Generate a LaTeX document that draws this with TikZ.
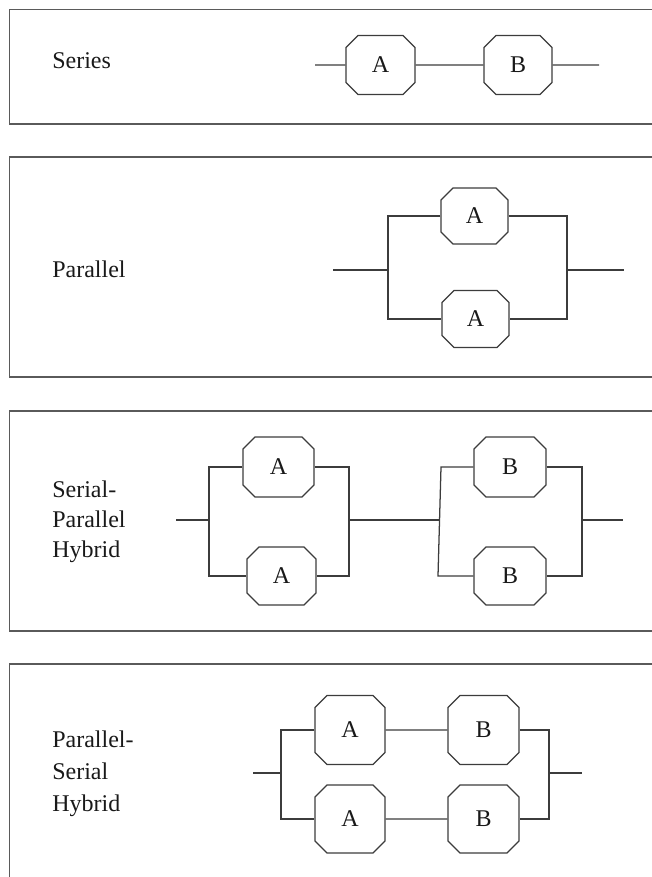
\documentclass[tikz,border=0pt]{standalone}
\usepackage{fontspec}
\setmainfont{Liberation Serif}
\usetikzlibrary{shapes.misc}
\definecolor{panelcol}{HTML}{5A5A5A}
\definecolor{wirecol}{HTML}{3C3C3C}
\begin{document}
\begin{tikzpicture}[x=0.75pt,y=-0.75pt,
  panel/.style={draw=panelcol, line width=1.1pt},
  wire/.style={draw=wirecol, line width=0.95pt},
  tag/.style={anchor=base west, inner sep=0pt, font=\fontsize{18}{20}\selectfont, text=black!90},
  block/.style 2 args={chamfered rectangle, chamfered rectangle xsep=12.75pt,
    draw=wirecol, line width=0.95pt, fill=white, inner sep=0pt,
    minimum width=#1*0.75pt, minimum height=#2*0.75pt,
    font=\fontsize{18}{20}\selectfont, text=black!90},
]
\useasboundingbox (0,0) rectangle (652,877);
\clip (0,0) rectangle (652,877);

% panel frames (open to the right, last one open at the bottom)
\draw[panel] (9.5,9.5) rectangle (700,124);
\draw[panel] (9.5,157) rectangle (700,377);
\draw[panel] (9.5,411) rectangle (700,631);
\draw[panel] (9.5,664) rectangle (700,920);

% ---- Series ----
\node[tag] (tSeries) at (52,69) {Series};
\coordinate (sIn) at (315,65);
\node[block={69}{59}] (sA) at (380.5,65) {A};
\node[block={68}{59}] (sB) at (518,65) {B};
\coordinate (sOut) at (599,65);
\draw[wire] (sIn) -- (sA) -- (sB) -- (sOut);

% ---- Parallel ----
\node[tag] (tPar) at (52,277) {Parallel};
\node[block={67}{56}] (pA1) at (474.5,216) {A};
\node[block={67}{57}] (pA2) at (475.5,319) {A};
\coordinate (pIn) at (333,270);
\coordinate (pL) at (388,270);
\coordinate (pR) at (567,270);
\coordinate (pOut) at (624,270);
\draw[wire] (pIn) -- (pL);
\draw[wire] (pA1.west) -| (pL) |- (pA2.west);
\draw[wire] (pA1.east) -| (pR) |- (pA2.east);
\draw[wire] (pR) -- (pOut);

% ---- Serial-Parallel Hybrid ----
\node[tag] (tSP1) at (52,497) {Serial-};
\node[tag] (tSP2) at (52,527) {Parallel};
\node[tag] (tSP3) at (52,557) {Hybrid};
\node[block={71}{60}] (spA1) at (278.5,467) {A};
\node[block={69}{58}] (spA2) at (281.5,576) {A};
\node[block={72}{60}] (spB1) at (510,467) {B};
\node[block={72}{58}] (spB2) at (510,576) {B};
\coordinate (spIn) at (176,520);
\coordinate (spL) at (209,520);
\coordinate (spM) at (349,520);
\coordinate (spJt) at (441,467);
\coordinate (spJm) at (439.5,520);
\coordinate (spJb) at (438,576);
\coordinate (spR) at (582,520);
\coordinate (spOut) at (623,520);
\draw[wire] (spIn) -- (spL);
\draw[wire] (spA1.west) -| (spL) |- (spA2.west);
\draw[wire] (spA1.east) -| (spM) |- (spA2.east);
\draw[wire] (spM) -- (spJm);
\draw[wire] (spB1.west) -- (spJt) -- (spJb) -- (spB2.west);
\draw[wire] (spB1.east) -| (spR) |- (spB2.east);
\draw[wire] (spR) -- (spOut);

% ---- Parallel-Serial Hybrid ----
\node[tag] (tPS1) at (52,747) {Parallel-};
\node[tag] (tPS2) at (52,779) {Serial};
\node[tag] (tPS3) at (52,811) {Hybrid};
\node[block={70}{69}] (psA1) at (350,730) {A};
\node[block={71}{69}] (psB1) at (483.5,730) {B};
\node[block={70}{68}] (psA2) at (350,819) {A};
\node[block={71}{68}] (psB2) at (483.5,819) {B};
\coordinate (psIn) at (253,773);
\coordinate (psL) at (281,773);
\coordinate (psR) at (549,773);
\coordinate (psOut) at (582,773);
\draw[wire] (psIn) -- (psL);
\draw[wire] (psA1.west) -| (psL) |- (psA2.west);
\draw[wire] (psA1) -- (psB1);
\draw[wire] (psA2) -- (psB2);
\draw[wire] (psB1.east) -| (psR) |- (psB2.east);
\draw[wire] (psR) -- (psOut);
\end{tikzpicture}
\end{document}
